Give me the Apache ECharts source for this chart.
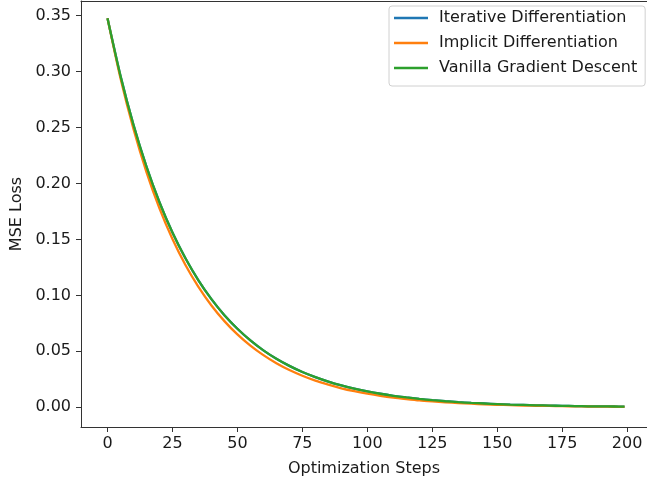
<!DOCTYPE html>
<html>
<head>
<meta charset="utf-8">
<script src="https://cdn.jsdelivr.net/npm/echarts@6/dist/echarts.min.js"></script>
<style>
    html, body { margin: 0; padding: 0; background: #fff; }
    #chart { width: 647px; height: 483px; }
</style>
</head>
<body>
<div id="chart"></div>
<script type="text/javascript">

    // values, every 5 steps
    var steps = [0, 5, 10, 15, 20, 25, 30, 35, 40, 45, 50, 55, 60, 65, 70, 75, 80, 85, 90, 95,
                 100, 105, 110, 115, 120, 125, 130, 135, 140, 145, 150, 155, 160, 165, 170, 175,
                 180, 185, 190, 195, 199];

    var iterative = [0.3475, 0.2961, 0.2523, 0.2150, 0.1832, 0.1561, 0.1331, 0.1134, 0.0966, 0.0823,
                     0.0702, 0.0598, 0.0509, 0.0434, 0.0370, 0.0315, 0.0269, 0.0229, 0.0195, 0.0166,
                     0.0142, 0.0121, 0.0103, 0.0088, 0.0075, 0.0064, 0.0054, 0.0046, 0.0039, 0.0034,
                     0.0029, 0.0024, 0.0021, 0.0018, 0.0015, 0.0013, 0.0011, 0.0009, 0.0008, 0.0007, 0.0006];

    var implicit = [0.3475, 0.2939, 0.2486, 0.2102, 0.1778, 0.1504, 0.1272, 0.1076, 0.0910, 0.0770,
                    0.0651, 0.0551, 0.0466, 0.0394, 0.0333, 0.0282, 0.0238, 0.0202, 0.0170, 0.0144,
                    0.0122, 0.0103, 0.0087, 0.0074, 0.0062, 0.0053, 0.0045, 0.0038, 0.0032, 0.0027,
                    0.0023, 0.0019, 0.0016, 0.0014, 0.0012, 0.0010, 0.0008, 0.0007, 0.0006, 0.0005, 0.0004];

    var vanilla = [0.3475, 0.2961, 0.2523, 0.2150, 0.1832, 0.1561, 0.1331, 0.1134, 0.0966, 0.0823,
                   0.0702, 0.0598, 0.0509, 0.0434, 0.0370, 0.0315, 0.0269, 0.0229, 0.0195, 0.0166,
                   0.0142, 0.0121, 0.0103, 0.0088, 0.0075, 0.0064, 0.0054, 0.0046, 0.0039, 0.0034,
                   0.0029, 0.0024, 0.0021, 0.0018, 0.0015, 0.0013, 0.0011, 0.0009, 0.0008, 0.0007, 0.0006];

    var xTicks = [0, 25, 50, 75, 100, 125, 150, 175, 200];
    var yTicks = [0, 0.05, 0.10, 0.15, 0.20, 0.25, 0.30, 0.35];

    var names = ['Iterative Differentiation', 'Implicit Differentiation', 'Vanilla Gradient Descent'];
    var colors = ['#1f77b4', '#ff7f0e', '#2ca02c'];

    function pairs(ys) {
        var out = [];
        for (var i = 0; i < steps.length; i++) out.push([steps[i], ys[i]]);
        return out;
    }

    function makeSeries(name, ys, color) {
        return {
            type: 'line',
            name: name,
            data: pairs(ys),
            showSymbol: false,
            symbol: 'none',
            smooth: 0.25,
            lineStyle: { color: color, width: 2.3 },
            itemStyle: { color: color }
        };
    }

    var axisColor = '#333';
    var textColor = '#1a1a1a';
    var font = 'DejaVu Sans';
    var xMin = -10.2, xMax = 207.65;

    var chart = echarts.init(document.getElementById('chart'));
    chart.setOption({
        animation: false,
        backgroundColor: '#fff',
        textStyle: { fontFamily: font },
        grid: {
            left: 81, top: 1, width: 570, height: 426,
            show: false
        },
        legend: {
            orient: 'vertical',
            left: 389, top: 6,
            padding: [4, 8, 10, 5],
            itemGap: 9,
            itemWidth: 34,
            itemHeight: 2.4,
            icon: 'rect',
            backgroundColor: '#fff',
            borderColor: '#d0d0d0',
            borderWidth: 1,
            borderRadius: 3,
            data: names,
            textStyle: { fontFamily: font, fontSize: 16, color: textColor, lineHeight: 16, padding: [0, 0, 0, 6] }
        },
        xAxis: [{
            type: 'value',
            min: xMin, max: xMax,
            name: 'Optimization Steps',
            nameLocation: 'middle',
            nameGap: 34,
            nameTextStyle: { fontFamily: font, fontSize: 16, color: textColor },
            splitLine: { show: false },
            axisLine: { show: true, onZero: false, lineStyle: { color: axisColor, width: 1 } },
            axisTick: { show: true, length: 5, customValues: xTicks, lineStyle: { color: axisColor } },
            axisLabel: {
                customValues: xTicks, margin: 9,
                fontFamily: font, fontSize: 16, color: textColor,
                formatter: function (v) { return String(v); }
            }
        }, {
            // top spine only
            type: 'value',
            position: 'top',
            min: xMin, max: xMax,
            splitLine: { show: false },
            axisLine: { show: true, onZero: false, lineStyle: { color: axisColor, width: 1 } },
            axisTick: { show: false },
            axisLabel: { show: false }
        }],
        yAxis: {
            type: 'value',
            min: -0.0176, max: 0.363,
            name: 'MSE Loss',
            nameLocation: 'middle',
            nameGap: 53,
            nameRotate: 90,
            nameTextStyle: { fontFamily: font, fontSize: 16, color: textColor },
            splitLine: { show: false },
            axisLine: { show: true, onZero: false, lineStyle: { color: axisColor, width: 1 } },
            axisTick: { show: true, length: 5, customValues: yTicks, lineStyle: { color: axisColor } },
            axisLabel: {
                customValues: yTicks, margin: 10,
                fontFamily: font, fontSize: 16, color: textColor,
                formatter: function (v) { return v.toFixed(2); }
            }
        },
        series: [
            makeSeries(names[0], iterative, colors[0]),
            makeSeries(names[1], implicit, colors[1]),
            makeSeries(names[2], vanilla, colors[2])
        ]
    });
</script>
</body>
</html>
